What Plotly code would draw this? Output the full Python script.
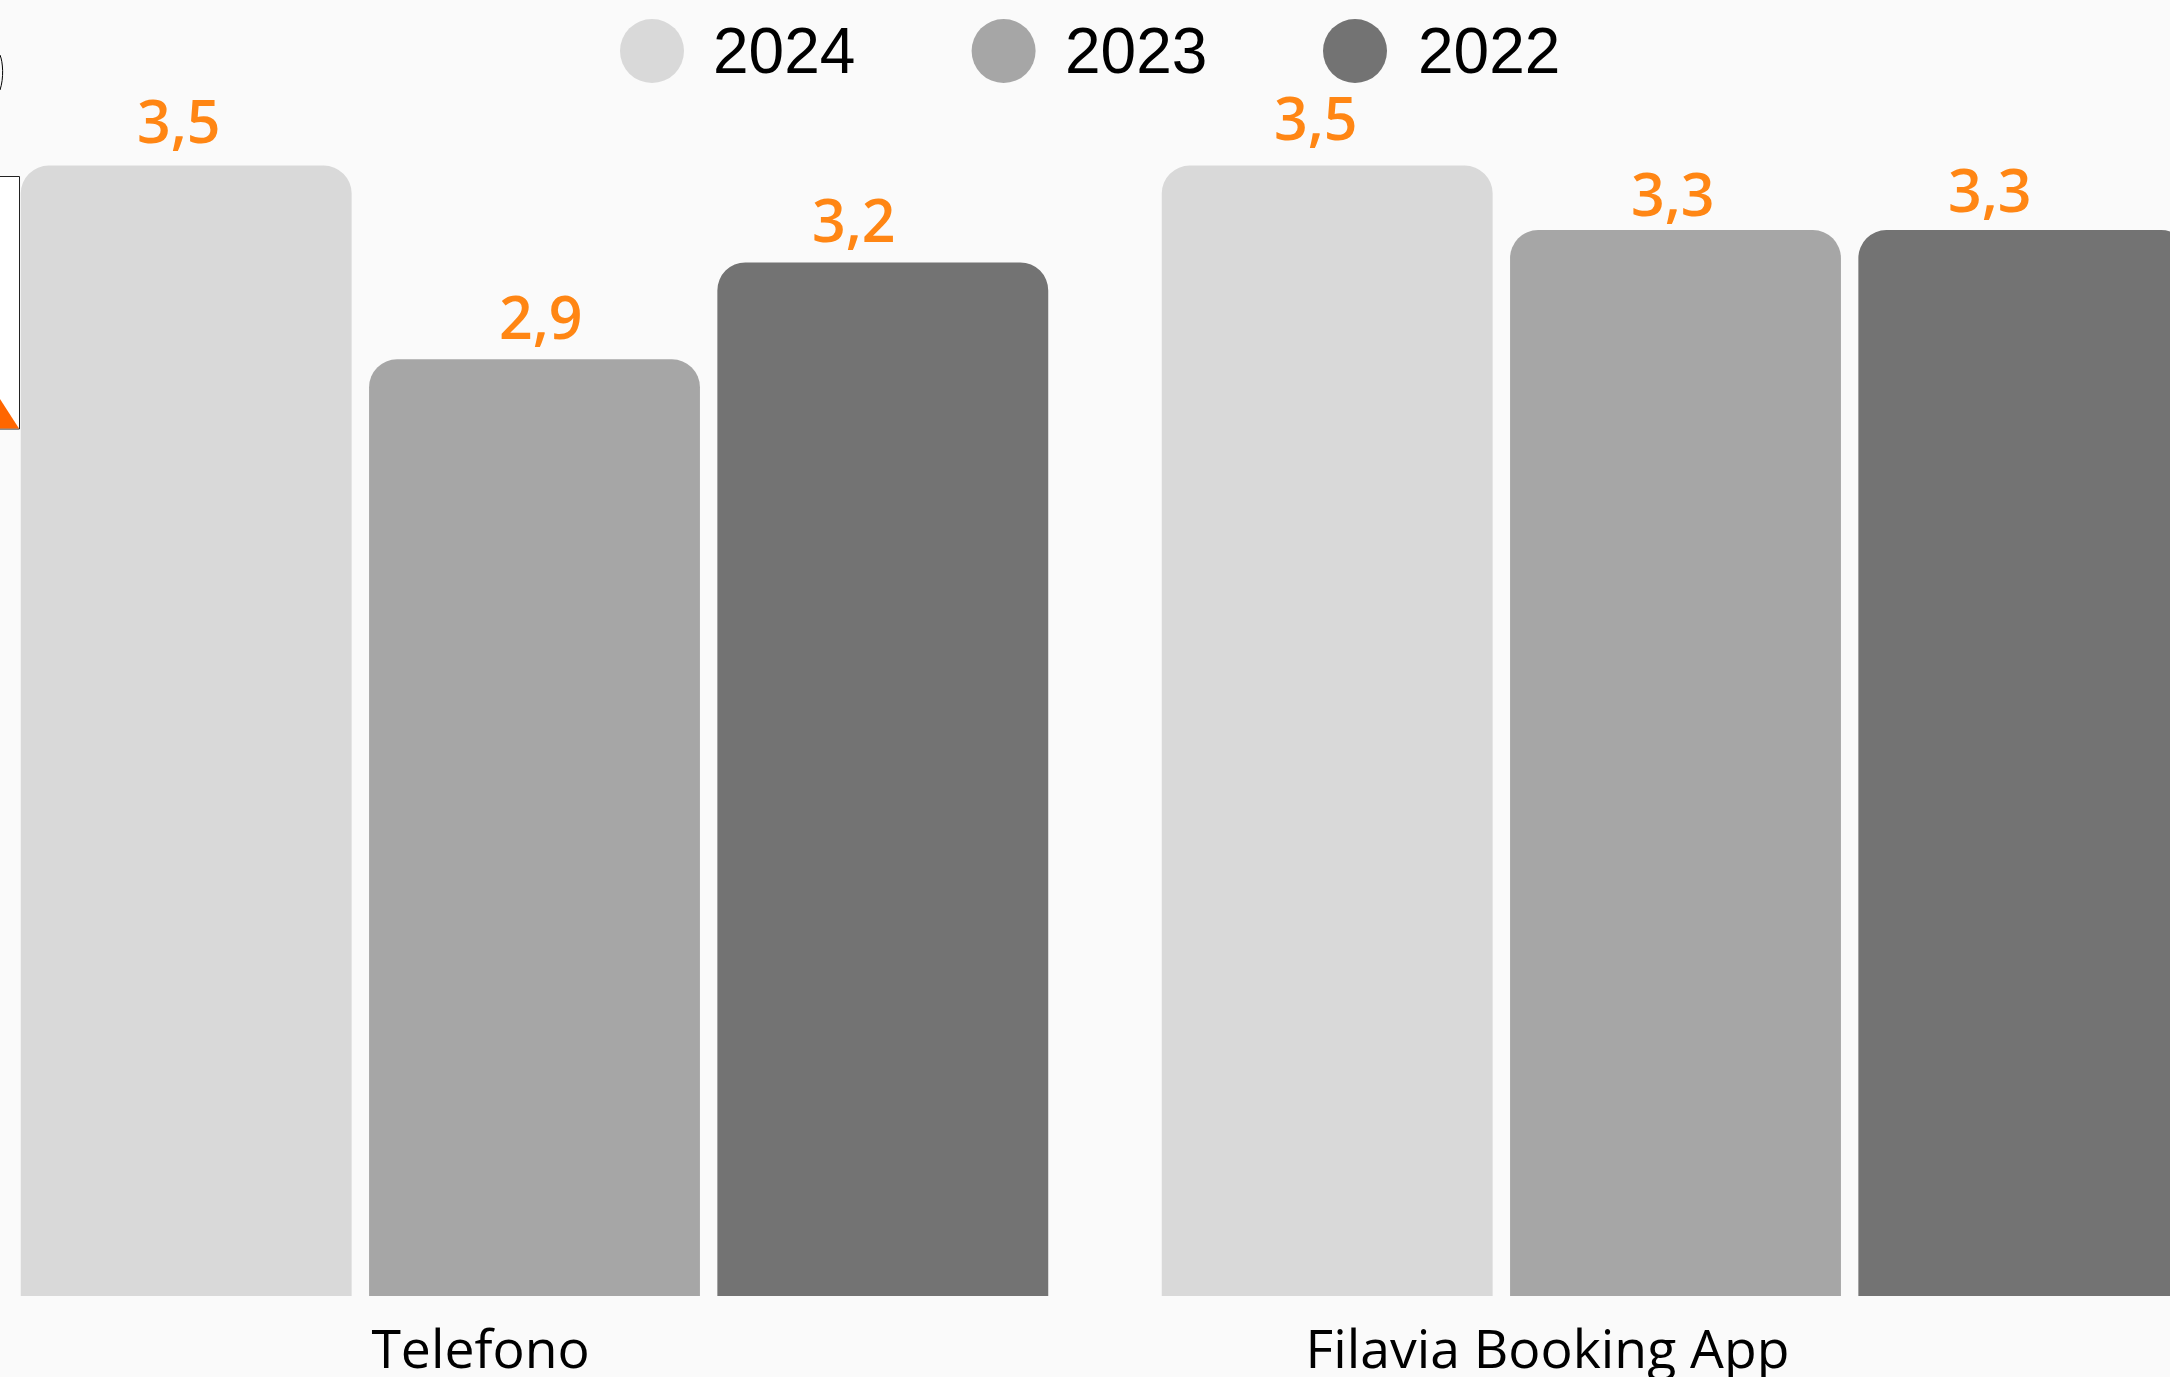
import plotly.graph_objects as go

W, H = 2170, 1377

categories = ["Telefono", "Filavia Booking App"]
years = ["2024", "2023", "2022"]
values_2024 = [3.5, 3.5]
values_2023 = [2.9, 3.3]
values_2022 = [3.2, 3.3]
series_values = [values_2024, values_2023, values_2022]
colors = ["#D9D9D9", "#A6A6A6", "#737373"]
label_color = "#FF8614"
bg = "#FAFAFA"

# layout geometry (pixels of the page)
BASE_PX = 1296
PX_PER_UNIT = 323
CAT_PITCH = 1141
SLOT = 348.3
CENTER0 = 534.5

# hand-placed offsets of labels relative to the bars they belong to
label_dx = [[-7, -11], [6, -2.5], [-29, -34]]
label_dy = [[4, 7], [1, -5], [1, -1]]
tick_shift = [-54, -128]

def px(x): return x / W
def py(y): return (BASE_PX - y) / BASE_PX  # paper y spans the plot area

fig = go.Figure()
xs = list(range(len(categories)))
for name, vals, col in zip(years, series_values, colors):
    fig.add_trace(go.Bar(x=xs, y=vals, name=name, marker=dict(color=col, line=dict(width=0)),
                         showlegend=False, hoverinfo="skip"))

annotations = []
for i, vals in enumerate(series_values):
    for j, v in enumerate(vals):
        annotations.append(dict(
            x=j + (i - 1) * SLOT / CAT_PITCH, y=v, xref="x", yref="y",
            text=f"{v:.1f}".replace(".", ","), showarrow=False,
            xanchor="center", yanchor="bottom",
            xshift=label_dx[i][j], yshift=label_dy[i][j],
            font=dict(family="Open Sans", size=59, color=label_color, weight=600),
        ))

# legend drawn by hand: plotly caps legend marker size
legend_cx = [652, 1003.6, 1355]
legend_tx = [711, 1063, 1416]
shapes = []
R = 32
for name, col, cx, tx in zip(years, colors, legend_cx, legend_tx):
    shapes.append(dict(type="circle", xref="paper", yref="paper",
                       x0=px(cx - R), x1=px(cx + R), y0=py(51 + R), y1=py(51 - R),
                       fillcolor=col, line=dict(width=0)))
    annotations.append(dict(x=px(tx), y=py(51), xref="paper", yref="paper", text=name,
                            showarrow=False, xanchor="left", yanchor="middle",
                            font=dict(family="Liberation Sans", size=64, color="#000000")))

# cropped fragment at the left edge
shapes.append(dict(type="rect", xref="paper", yref="paper",
                   x0=px(-3), x1=px(19.5), y0=py(429), y1=py(176.5),
                   fillcolor="#FFFFFF", line=dict(color="#222222", width=1)))
shapes.append(dict(type="path", xref="paper", yref="paper",
                   path=f"M {px(0)} {py(399)} L {px(19)} {py(428.5)} L {px(0)} {py(428.5)} Z",
                   fillcolor="#FF6600", line=dict(width=0)))
shapes.append(dict(type="path", xref="paper", yref="paper",
                   path=f"M {px(0)} {py(55)} C {px(3)} {py(62)} {px(4)} {py(78)} {px(0)} {py(90)}",
                   line=dict(color="#000000", width=1)))

fig.update_layout(
    width=W, height=H,
    margin=dict(l=0, r=0, t=0, b=H - BASE_PX, autoexpand=False),
    paper_bgcolor=bg, plot_bgcolor=bg,
    barmode="group", bargap=1 - 3 * SLOT / CAT_PITCH, bargroupgap=0.05,
    barcornerradius=28, showlegend=False,
    annotations=annotations, shapes=shapes,
    xaxis=dict(range=[-CENTER0 / CAT_PITCH, (W - CENTER0) / CAT_PITCH],
               tickmode="array",
               tickvals=[j + s / CAT_PITCH for j, s in zip(xs, tick_shift)],
               ticktext=categories, ticks="", showgrid=False, zeroline=False, showline=False,
               automargin=False, ticklabelstandoff=17,
               tickfont=dict(family="Open Sans", size=53.5, color="#000000")),
    yaxis=dict(range=[0, BASE_PX / PX_PER_UNIT], visible=False, showgrid=False, zeroline=False),
)

fig.write_html("out.html", post_script="document.body.style.margin='0';document.body.style.background='#FAFAFA';",
               config=dict(displayModeBar=False))
